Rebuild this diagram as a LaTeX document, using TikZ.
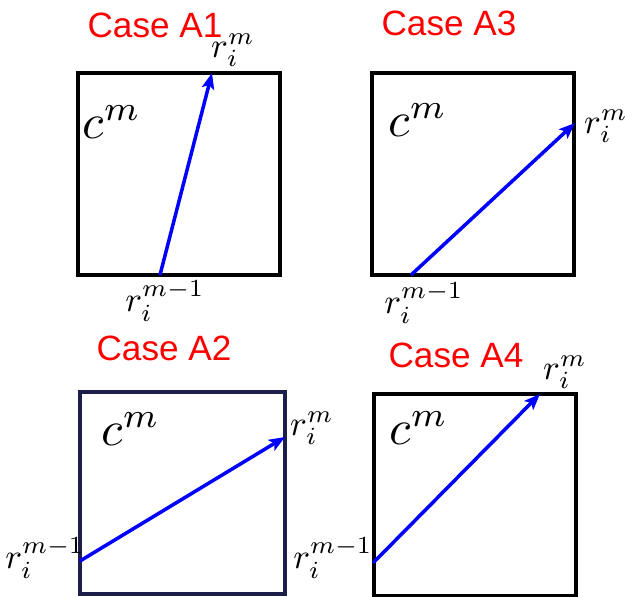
\documentclass[tikz,border=0pt]{standalone}
\usepackage{fontspec}
\newfontfamily\casefont{Liberation Sans}
\usetikzlibrary{arrows.meta}
\definecolor{casered}{HTML}{FF0000}
\definecolor{vecblue}{HTML}{0000FF}
\definecolor{navyline}{HTML}{1C1F4C}

\begin{document}
\begin{tikzpicture}[x=0.02cm, y=-0.02cm,
  cell/.style={draw=black, line width=2pt, minimum width=4.04cm,
               minimum height=4.04cm, inner sep=0pt},
  title/.style={font=\casefont\fontsize{20}{24}\selectfont, text=casered},
  lab/.style={scale=2.0, inner sep=0pt},
  cmlab/.style={scale=2.8, inner sep=0pt},
  vec/.style={-{Stealth[length=3.2mm, width=2.5mm, inset=0.7mm]},
              draw=vecblue, line width=2pt},
]
\useasboundingbox (0,0) rectangle (625,597);

% ── Case A1 ─────────────────────────────────────────────
\node[title] (tA1) at (155,25) {Case A1};
\node[cell] (boxA1) at (179,174) {};
\node[cmlab] (cA1) at (112,122) {$c^m$};
\coordinate (sA1) at (160,275);
\coordinate (eA1) at (212,73);
\node[lab] (rA1) at (233,50) {$r_i^m$};
\node[lab] (pA1) at (165,301) {$r_i^{m-1}$};
\draw[vec] (sA1) -- (eA1);

% ── Case A3 ─────────────────────────────────────────────
\node[title] (tA3) at (449,23) {Case A3};
\node[cell] (boxA3) at (473,174) {};
\node[cmlab] (cA3) at (418,120) {$c^m$};
\coordinate (sA3) at (411,275);
\coordinate (eA3) at (575,123);
\node[lab] (rA3) at (606,126) {$r_i^m$};
\node[lab] (pA3) at (424,303) {$r_i^{m-1}$};
\draw[vec] (sA3) -- (eA3);

% ── Case A2 ─────────────────────────────────────────────
\node[title] (tA2) at (164,348) {Case A2};
\node[cell, draw=navyline, minimum width=4.1cm] (boxA2) at (182.5,493) {};
\node[cmlab] (cA2) at (131,429) {$c^m$};
\coordinate (sA2) at (80,561);
\coordinate (eA2) at (285,437);
\node[lab] (rA2) at (312,428) {$r_i^m$};
\node[lab] (pA2) at (45,558) {$r_i^{m-1}$};
\draw[vec] (sA2) -- (eA2);

% ── Case A4 ─────────────────────────────────────────────
\node[title] (tA4) at (456,355) {Case A4};
\node[cell] (boxA4) at (475,495) {};
\node[cmlab] (cA4) at (419,428) {$c^m$};
\coordinate (sA4) at (373,563);
\coordinate (eA4) at (540,394);
\node[lab] (rA4) at (565,372) {$r_i^m$};
\node[lab] (pA4) at (333,558) {$r_i^{m-1}$};
\draw[vec] (sA4) -- (eA4);

\end{tikzpicture}
\end{document}
